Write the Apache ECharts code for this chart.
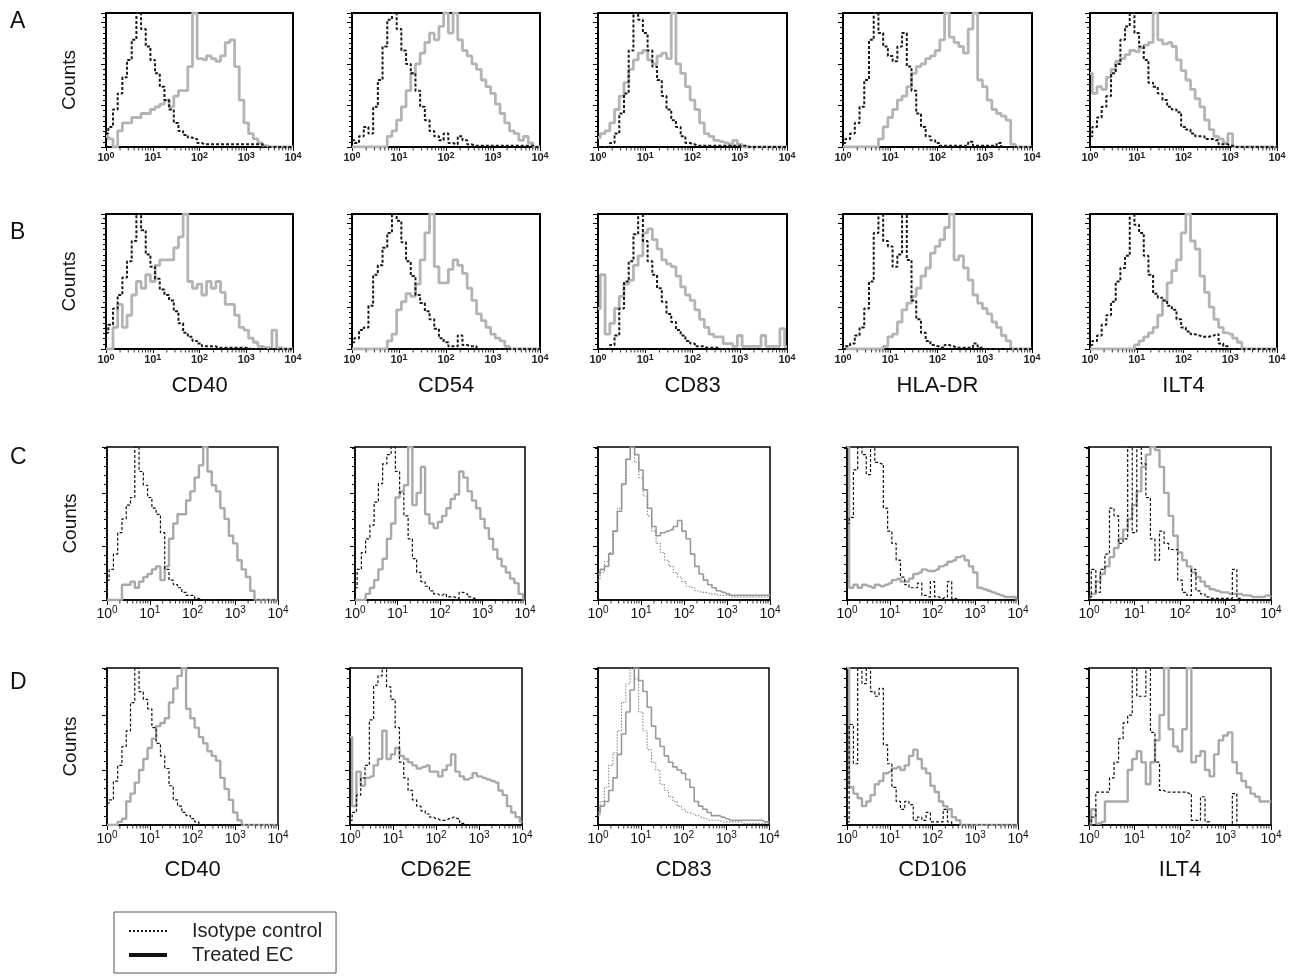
<!DOCTYPE html>
<html><head><meta charset="utf-8">
<script src="https://cdn.jsdelivr.net/npm/echarts@6/dist/echarts.min.js"></script>
<style>html,body{margin:0;padding:0;background:#fff}#c{width:1295px;height:980px}</style>
</head><body><div id="c"></div>
<script>
// log10 of bin centres (fluorescence intensity, 10^0 .. 10^4)
const EXPONENTS = [0.0,0.1,0.2,0.3,0.4,0.5,0.6,0.7,0.8,0.9,1.0,1.1,1.2,1.3,1.4,1.5,1.6,1.7,1.8,1.9,2.0,2.1,2.2,2.3,2.4,2.5,2.6,2.7,2.8,2.9,3.0,3.1,3.2,3.3,3.4,3.5,3.6,3.7,3.8,3.9,4.0];
const MINOR_TICKS = [2,3,4,5,6,7,8,9,20,30,40,50,60,70,80,90,200,300,400,500,600,700,800,900,2000,3000,4000,5000,6000,7000,8000,9000];
const ROW_LETTERS = ['A','B','C','D'];
const MARKERS_B = ['CD40','CD54','CD83','HLA-DR','ILT4'];
const MARKERS_D = ['CD40','CD62E','CD83','CD106','ILT4'];
const LEGEND_NAMES = ['Isotype control','Treated EC'];

// Row A
const isoA1 = [10,15,28,40,52,65,80,100,88,75, 65,55,45,35,28,18,12,9,7,6, 3,2,2,2,2,2,2,2,2,2, 2,2,2,2,0,0,0,0,0,0, 0];
const ecA1  = [8,6,0,12,18,18,22,22,25,25, 28,30,32,35,30,38,42,42,60,100, 66,65,68,66,64,68,78,80,60,35, 18,10,6,3,1,0,0,0,0,0, 0];
const isoA2 = [5,3,8,15,10,30,50,75,95,100, 88,72,62,55,42,30,20,12,8,5, 10,3,2,8,5,2,1,1,1,1, 1,1,1,1,1,1,1,1,1,0, 0];
const ecA2  = [0,0,0,0,0,0,0,0,8,12, 20,30,42,55,62,70,78,85,80,90, 100,85,100,80,72,68,62,58,50,45, 40,32,25,18,12,10,5,8,3,0, 0];
const isoA3 = [0,0,0,3,10,25,40,72,100,95, 85,72,60,50,38,28,20,15,8,3, 2,1,1,1,1,1,1,1,1,1, 1,1,0,0,0,0,0,0,0,0, 0];
const ecA3  = [7,10,12,18,28,38,48,58,65,70, 72,65,62,68,70,66,100,62,55,45, 35,28,18,10,8,5,4,3,2,5, 2,0,0,0,0,0,0,0,0,0, 0];
const isoA4 = [3,6,10,18,30,50,80,100,85,75, 68,64,75,85,60,42,25,15,8,5, 3,1,1,1,1,1,1,4,1,1, 1,1,1,3,0,0,0,0,0,0, 0];
const ecA4  = [0,0,0,0,0,0,0,0,6,15, 22,28,35,38,45,55,60,62,66,68, 72,80,100,82,78,75,70,88,100,50, 45,35,28,25,23,20,2,0,0,0, 0];
const isoA5 = [8,15,22,30,38,55,62,80,90,100, 85,75,65,48,45,40,35,30,28,26, 15,13,10,8,8,6,6,5,2,2, 1,0,0,0,0,0,0,0,0,0, 0];
const ecA5  = [55,40,45,43,52,58,64,66,69,72, 71,74,76,78,100,80,77,78,75,65, 57,50,43,36,30,20,13,8,6,3, 10,0,0,0,0,0,0,0,0,0, 0];
// Row B
const isoB1 = [12,18,30,40,53,65,80,100,88,70, 61,52,44,40,36,28,19,12,9,6, 4,2,2,2,1,1,1,1,1,1, 1,0,0,0,0,0,0,0,0,0, 0];
const ecB1  = [0,0,16,33,16,25,40,50,45,55, 50,62,66,66,66,75,83,100,50,45, 48,40,50,45,50,42,33,33,25,16, 14,8,5,2,1,1,14,1,0,0, 0];
const isoB2 = [5,8,14,16,32,55,62,75,86,100, 95,79,65,54,40,34,28,22,15,8, 5,2,2,10,3,2,2,0,0,0, 0,0,0,0,0,0,0,0,0,0, 0];
const ecB2  = [0,0,0,0,0,0,0,0,6,11, 29,35,41,39,48,66,86,100,61,49, 49,59,66,62,56,45,36,26,21,16, 11,8,6,2,0,0,0,0,0,0, 0];
const isoB3 = [0,0,0,3,10,30,50,65,85,100, 80,65,55,45,35,26,20,14,10,6, 4,2,2,1,1,1,0,0,0,0, 0,0,0,0,0,0,0,0,0,0, 0];
const ecB3  = [30,55,11,19,30,39,48,51,62,69, 86,89,81,74,66,63,61,54,46,40, 36,29,22,16,11,9,9,4,4,2, 10,2,2,2,2,10,2,2,2,15, 2];
const isoB4 = [0,2,4,10,16,30,50,86,100,80, 76,61,70,100,66,36,22,12,6,3, 2,1,3,2,1,1,1,1,4,1, 0,0,0,0,0,0,0,0,0,0, 0];
const ecB4  = [0,0,0,0,0,0,0,0,0,2, 9,11,20,29,34,39,45,54,60,71, 76,81,90,100,66,69,60,51,40,34, 30,26,20,16,10,6,0,0,0,0, 0];
const isoB5 = [3,6,10,18,25,35,50,60,69,100, 92,86,69,55,41,38,36,32,29,22, 16,13,11,10,9,9,10,11,4,2, 0,0,0,0,0,0,0,0,0,0, 0];
const ecB5  = [0,0,0,0,0,0,0,0,0,0, 3,6,9,12,16,25,36,49,58,66, 86,100,80,74,54,42,31,22,16,12, 11,8,5,0,0,0,0,0,0,0, 0];
// Row C
const isoC1 = [13,20,30,44,53,62,67,100,84,75, 67,60,56,44,20,13,10,8,5,3, 3,1,0,0,0,0,0,0,0,0, 0,0,0,0,0,0,0,0,0,0, 0];
const ecC1  = [0,0,0,0,10,10,12,8,12,15, 17,20,22,13,22,40,50,56,56,65, 71,80,88,100,84,75,71,60,53,42, 37,26,20,15,6,0,0,0,0,0, 0];
const isoC2 = [8,20,31,40,49,64,76,89,95,100, 84,70,55,40,27,18,12,9,6,4, 3,4,2,2,1,5,4,2,1,0, 0,0,0,0,0,0,0,0,0,0, 0];
const ecC2  = [0,0,0,4,8,13,20,27,40,50, 67,71,75,100,62,70,87,56,50,47, 51,55,60,66,69,84,80,71,65,60, 53,47,40,33,27,22,18,14,11,4, 0];
const isoC3 = [13,18,25,31,45,60,75,92,100,90, 80,68,55,45,37,31,26,22,18,15, 12,9,8,6,5,5,4,4,3,3, 3,2,2,2,2,2,2,2,2,2, 2];
const ecC3  = [17,20,22,30,45,58,76,92,100,95, 85,72,60,48,42,44,45,46,48,52, 45,40,30,22,17,13,10,8,6,5, 4,3,3,3,3,3,3,3,3,3, 3];
const isoC4 = [50,54,85,100,95,82,100,90,89,60, 45,37,26,15,10,8,8,11,3,2, 12,2,1,2,12,1,0,0,0,0, 0,0,0,0,0,0,0,0,0,0, 0];
const ecC4  = [100,8,10,8,10,9,8,10,9,10, 11,13,14,12,12,14,17,18,20,19, 19,20,22,23,25,26,28,29,26,22, 18,8,7,6,5,4,3,2,2,2, 0];
const isoC5 = [2,20,5,20,30,60,55,37,40,100, 44,100,89,67,40,26,45,37,33,33, 13,5,3,20,6,4,2,1,1,1, 1,1,20,1,0,0,0,0,0,0, 0];
const ecC5  = [2,4,12,17,22,28,34,40,46,53, 62,71,87,95,100,98,87,70,55,42, 31,26,22,18,15,12,9,7,6,5, 5,4,4,4,3,3,2,2,2,3, 2];
// Row D
const isoD1 = [14,16,28,38,50,60,78,100,85,80, 74,62,52,44,36,25,16,12,8,6, 4,2,0,0,0,0,0,0,0,0, 0,0,0,0,0,0,0,0,0,0, 0];
const ecD1  = [0,0,0,2,4,15,20,27,35,42, 49,55,63,65,68,78,87,95,100,74, 68,62,56,52,47,44,41,30,23,16, 8,3,0,0,0,0,0,0,0,0, 0];
const isoD2 = [3,8,19,30,38,67,89,95,100,88, 80,62,40,30,22,16,12,9,7,5, 4,3,3,4,5,4,1,0,0,0, 0,0,0,0,0,0,0,0,0,0, 0];
const ecD2  = [56,12,34,25,30,31,38,42,60,42, 45,49,44,42,40,38,36,37,38,34, 34,31,35,38,45,34,31,29,30,33, 31,30,29,28,27,22,19,12,8,5, 2];
const isoD3 = [6,15,24,38,46,60,78,90,100,93, 72,60,48,40,35,26,22,18,15,12, 10,8,7,6,5,4,3,3,3,2, 2,2,2,2,1,1,1,1,1,1, 1];
const ecD3  = [8,12,15,22,30,45,58,72,86,100, 92,85,75,63,55,50,44,40,37,35, 33,29,24,15,12,10,8,6,6,5, 4,3,3,3,3,3,3,3,3,2, 2];
const isoD4 = [2,64,39,100,90,100,85,82,87,51, 39,24,15,10,15,13,3,5,3,8, 2,2,2,10,2,0,0,0,0,0, 0,0,0,0,0,0,0,0,0,0, 0];
const ecD4  = [100,24,20,17,12,15,19,26,28,33, 34,36,37,35,38,44,48,42,36,33, 25,21,15,12,10,5,3,0,0,0, 0,0,0,0,0,0,0,0,0,0, 0];
const isoD5 = [0,5,21,21,21,30,40,55,65,70, 100,82,82,100,59,40,22,21,21,21, 21,21,20,3,3,18,2,0,0,0, 0,0,20,0,0,0,0,0,0,0, 0];
const ecD5  = [0,10,1,2,15,15,15,15,15,35, 42,47,40,26,40,54,70,100,61,50, 47,61,100,40,44,47,35,31,45,54, 57,59,40,33,28,24,20,18,15,15, 15];

const ISO = [[isoA1,isoA2,isoA3,isoA4,isoA5],[isoB1,isoB2,isoB3,isoB4,isoB5],[isoC1,isoC2,isoC3,isoC4,isoC5],[isoD1,isoD2,isoD3,isoD4,isoD5]];
const EC  = [[ecA1,ecA2,ecA3,ecA4,ecA5],[ecB1,ecB2,ecB3,ecB4,ecB5],[ecC1,ecC2,ecC3,ecC4,ecC5],[ecD1,ecD2,ecD3,ecD4,ecD5]];

const FONT = '"Liberation Sans", Arial, Helvetica, sans-serif';
const LAYOUT = [
  {top:13,  height:134, old:true,  letterY:22,  cols:[[106,187],[352,188],[598,189],[843,189],[1090,187]]},
  {top:214, height:135, old:true,  letterY:233, cols:[[106,187],[352,188],[598,189],[843,189],[1090,187]]},
  {top:447, height:153, old:false, letterY:458, cols:[[107,171],[355,170],[598,172],[847,171],[1089,182]]},
  {top:668, height:157, old:false, letterY:683, cols:[[107,171],[350,172],[598,171],[847,171],[1089,182]]}
];
const X = EXPONENTS.map(e => Math.pow(10, e));

const grids = [], xAxes = [], yAxes = [], series = [], graphics = [];
let k = 0;
LAYOUT.forEach((row, r) => {
  graphics.push({type:'text', left:10, top:row.letterY - 12, style:{text:ROW_LETTERS[r], font:'23px ' + FONT, fill:'#111'}});
  row.cols.forEach((c, ci) => {
    const old = row.old;
    const thin = (r >= 2 && ci === 2);
    grids.push({left:c[0], top:row.top, width:c[1], height:row.height, show:true, borderColor:'#000', borderWidth: old ? 2 : 1.5, backgroundColor:'transparent'});
    let name = '';
    if (r === 1) name = MARKERS_B[ci];
    if (r === 3) name = MARKERS_D[ci];
    xAxes.push({
      gridIndex:k, type:'log', logBase:10, min:1, max:10000,
      axisLine:{show:true, lineStyle:{color:'#000', width: old ? 2 : 1.5}},
      axisTick:{show:true, length: old ? 4 : 5, lineStyle:{color:'#000', width:1}},
      splitLine:{show:false},
      axisLabel: old ? {
        margin:4, showMinLabel:true, showMaxLabel:true,
        formatter: v => '{b|10}{s|' + Math.round(Math.log10(v)) + '}',
        rich:{ b:{fontSize:11, fontWeight:'bold', fontFamily:FONT, color:'#222', lineHeight:12, verticalAlign:'bottom'},
               s:{fontSize:9, fontWeight:'bold', fontFamily:FONT, color:'#222', lineHeight:9, verticalAlign:'top'} }
      } : {
        margin:5, showMinLabel:true, showMaxLabel:true,
        formatter: v => '{b|10}{s|' + Math.round(Math.log10(v)) + '}',
        rich:{ b:{fontSize:14, fontFamily:FONT, color:'#111', lineHeight:16, verticalAlign:'bottom'},
               s:{fontSize:10, fontFamily:FONT, color:'#111', lineHeight:10, verticalAlign:'top'} }
      },
      name:name, nameLocation:'middle', nameGap: r === 1 ? 26 : 34, nameMoveOverlap:false,
      nameTextStyle:{fontSize:22, fontFamily:FONT, color:'#111'}
    });
    yAxes.push({
      gridIndex:k, type:'value', min:0, max:100, interval: old ? 31 : 35,
      axisLine:{show:true, lineStyle:{color:'#000', width: old ? 2 : 1.5}},
      axisTick:{show:true, length:5, lineStyle:{color:'#000', width:1}},
      minorTick:{show:true, splitNumber: old ? 8 : 6, length:3, lineStyle:{color:'#000', width:1}},
      axisLabel:{show:false}, splitLine:{show:false}, minorSplitLine:{show:false},
      name: ci === 0 ? 'Counts' : '', nameLocation:'middle', nameGap:27, nameMoveOverlap:false,
      nameTextStyle:{fontSize:19, fontFamily:FONT, color:'#111'}
    });
    const ec = EC[r][ci], iso = ISO[r][ci];
    series.push({
      type:'line', name:'ec_' + k, xAxisIndex:k, yAxisIndex:k, step:'middle', symbol:'none', silent:true, z:2,
      data: X.map((x, i) => [x, ec[i]]),
      lineStyle: thin ? {color:'#9a9a9a', width:1.6} : {color: old ? '#b4b4b4' : '#a9a9a9', width: old ? 2.8 : 2.4}
    });
    series.push({
      type:'line', name:'iso_' + k, xAxisIndex:k, yAxisIndex:k, step:'middle', symbol:'none', silent:true, z:3,
      data: X.map((x, i) => [x, iso[i]]),
      lineStyle: thin ? {color:'#8a8a8a', width:1.1, type:[1.5,1.5]} : (old ? {color:'#1a1a1a', width:2, type:[3,2]} : {color:'#111', width:1.2, type:[3,2]})
    });
    series.push({
      type:'scatter', name:'minor_' + k, xAxisIndex:k, yAxisIndex:k, silent:true, clip:false, z:4,
      data: MINOR_TICKS.map(v => [v, 0]),
      symbol:'rect', symbolSize:[1, 3], symbolOffset:[0, 2], itemStyle:{color:'#000'}
    });
    k++;
  });
});

series.push({type:'line', name:LEGEND_NAMES[0], xAxisIndex:0, yAxisIndex:0, data:[], symbol:'none', lineStyle:{color:'#111', width:2, type:[2,2]}, itemStyle:{color:'#111'}});
series.push({type:'line', name:LEGEND_NAMES[1], xAxisIndex:0, yAxisIndex:0, data:[], symbol:'none', lineStyle:{color:'#111', width:4}, itemStyle:{color:'#111'}});

const chart = echarts.init(document.getElementById('c'), null, {renderer:'canvas'});
chart.setOption({
  animation:false,
  backgroundColor:'#fff',
  grid:grids, xAxis:xAxes, yAxis:yAxes, series:series, graphic:graphics,
  legend:{
    data:[{name:LEGEND_NAMES[0], lineStyle:{width:2}}, {name:LEGEND_NAMES[1], lineStyle:{width:4}}],
    left:114, top:912, orient:'vertical', selectedMode:false,
    itemWidth:38, itemHeight:12, itemGap:4, padding:[9,14,8,13],
    itemStyle:{opacity:0, borderWidth:0},
    lineStyle:{width:'inherit'},
    borderColor:'#555', borderWidth:1, backgroundColor:'#fff',
    textStyle:{fontSize:20, fontFamily:FONT, color:'#222', padding:[0,0,0,20]}
  }
});
</script>
</body></html>
